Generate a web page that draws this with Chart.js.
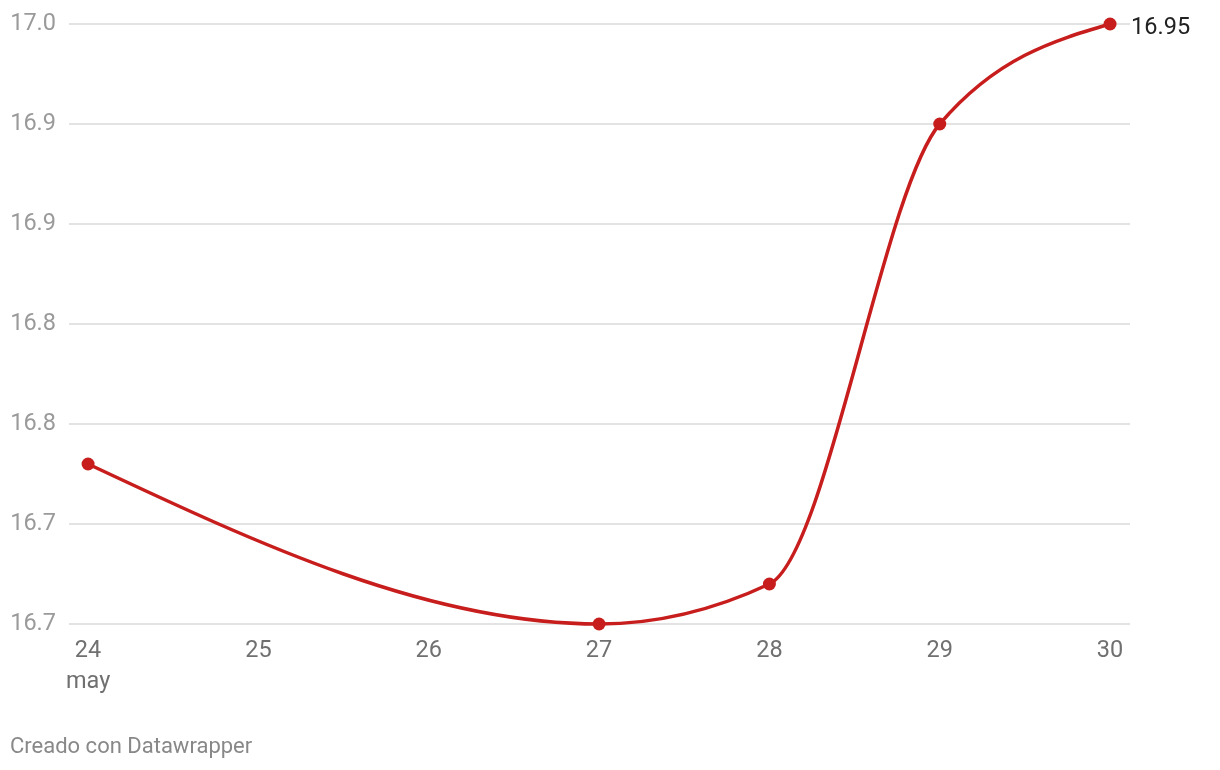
<!DOCTYPE html>
<html>
<head>
<meta charset="utf-8">
<script src="https://cdn.jsdelivr.net/npm/chart.js@4/dist/chart.umd.min.js"></script>
<style>
  html, body { margin: 0; padding: 0; background: #fff; }
  #wrap { position: relative; width: 1220px; height: 770px; }
  #footer {
    position: absolute; left: 10px; top: 733px;
    font-family: Roboto, sans-serif; font-size: 22px; color: #888;
  }
</style>
</head>
<body>
<div id="wrap">
  <canvas id="myChart" width="1220" height="770"></canvas>
  <div id="footer">Creado con Datawrapper</div>
</div>
<script>
// days of May that have a value (no data on 25 and 26)
const days = [24, 27, 28, 29, 30];
const values = [16.73, 16.65, 16.67, 16.90, 16.95];
// x axis ticks
const xTicks = [24, 25, 26, 27, 28, 29, 30];
const xTickLabels = [['24', 'may'], '25', '26', '27', '28', '29', '30'];
// y axis, bottom to top (labels are rounded like the original)
const yTicks = [16.65, 16.70, 16.75, 16.80, 16.85, 16.90, 16.95];
const yTickLabels = ['16.7', '16.7', '16.8', '16.8', '16.9', '16.9', '17.0'];

const red = '#c71e1d';

// d3-style monotoneX curve (ends are flatter than chart.js' monotone)
const monotoneX = {
    id: 'monotoneX',
    beforeDatasetsDraw(chart) {
        const line = chart.getDatasetMeta(0).dataset;
        line.updateControlPoints(chart.chartArea, 'x');
        const pts = line.points;
        const n = pts.length;
        if (n < 3) return;
        const h = [], s = [];
        for (let i = 0; i < n - 1; i++) {
            h.push(pts[i + 1].x - pts[i].x);
            s.push((pts[i + 1].y - pts[i].y) / h[i]);
        }
        const t = new Array(n);
        for (let i = 1; i < n - 1; i++) {
            const s0 = s[i - 1], s1 = s[i];
            const p = (s0 * h[i] + s1 * h[i - 1]) / (h[i - 1] + h[i]);
            t[i] = (Math.sign(s0) + Math.sign(s1)) *
                Math.min(Math.abs(s0), Math.abs(s1), 0.5 * Math.abs(p)) || 0;
        }
        t[0] = (3 * s[0] - t[1]) / 2;
        t[n - 1] = (3 * s[n - 2] - t[n - 2]) / 2;
        for (let i = 0; i < n - 1; i++) {
            const dx = h[i] / 3;
            pts[i].cp2x = pts[i].x + dx;
            pts[i].cp2y = pts[i].y + dx * t[i];
            pts[i + 1].cp1x = pts[i + 1].x - dx;
            pts[i + 1].cp1y = pts[i + 1].y - dx * t[i + 1];
        }
        line._path = undefined;
    }
};

// writes the last value next to the last point
const lastLabel = {
    id: 'lastLabel',
    afterDatasetsDraw(chart) {
        const meta = chart.getDatasetMeta(0);
        const pt = meta.data[meta.data.length - 1];
        const ctx = chart.ctx;
        ctx.save();
        ctx.font = '23.5px Roboto, sans-serif';
        ctx.fillStyle = '#222';
        ctx.textAlign = 'left';
        ctx.textBaseline = 'middle';
        ctx.fillText(values[values.length - 1].toFixed(2), pt.x + 21, pt.y + 4);
        ctx.restore();
    }
};

const myChartRef = document.getElementById('myChart').getContext('2d');
new Chart(myChartRef, {
    type: 'line',
    data: {
        datasets: [{
            data: days.map((d, i) => ({ x: d, y: values[i] })),
            borderColor: red,
            borderWidth: 3.5,
            backgroundColor: red,
            pointRadius: 6.5,
            pointHoverRadius: 6.5,
            pointBorderWidth: 0,
            cubicInterpolationMode: 'monotone',
            clip: false
        }]
    },
    plugins: [monotoneX, lastLabel],
    options: {
        responsive: false,
        animation: false,
        events: [],
        layout: { padding: { left: 0, right: 90, top: 24, bottom: 0 } },
        plugins: {
            legend: { display: false },
            tooltip: { enabled: false }
        },
        scales: {
            x: {
                type: 'linear',
                min: 23.888,
                max: 30.117,
                afterBuildTicks: (axis) => { axis.ticks = xTicks.map(v => ({ value: v })); },
                afterFit: (axis) => { axis.height = 146; },
                grid: { display: false },
                border: { display: false },
                ticks: {
                    padding: 4,
                    autoSkip: false,
                    maxRotation: 0,
                    color: '#707070',
                    font: { family: 'Roboto', size: 23.5, lineHeight: 1.32 },
                    callback: (v) => xTickLabels[xTicks.indexOf(v)]
                }
            },
            y: {
                min: 16.65,
                max: 16.95,
                afterBuildTicks: (axis) => { axis.ticks = yTicks.map(v => ({ value: v })); },
                afterFit: (axis) => { axis.width = 69; },
                grid: { color: '#e3e3e3', lineWidth: 2, drawTicks: false },
                border: { display: false },
                ticks: {
                    padding: 13,
                    color: '#9a9a9a',
                    font: { family: 'Roboto', size: 23.5, lineHeight: 0.9 },
                    callback: (v, i) => yTickLabels[i]
                }
            }
        }
    }
});
</script>
</body>
</html>
